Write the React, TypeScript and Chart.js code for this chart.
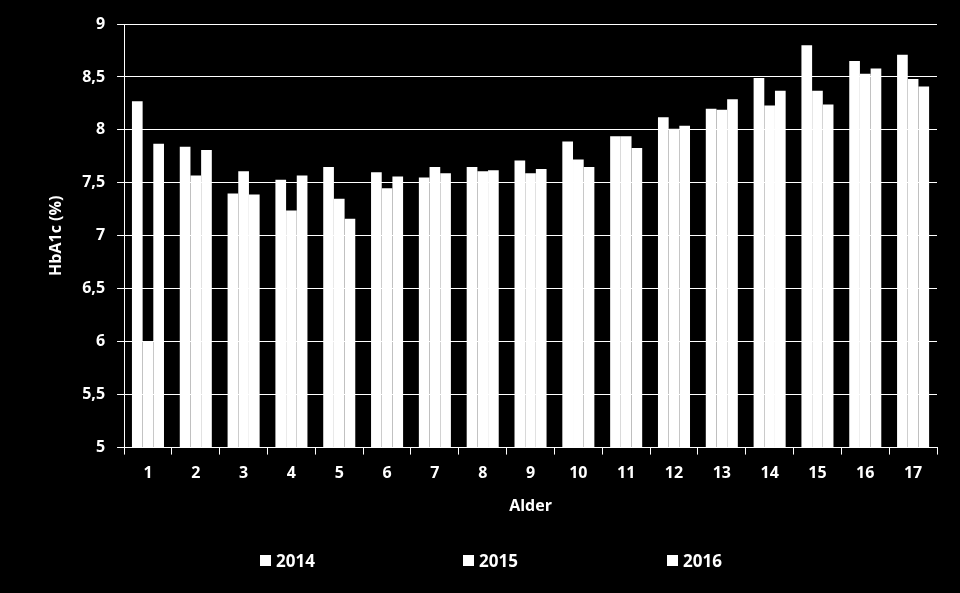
import React, { useEffect, useRef } from "react";
import { Chart, registerables } from "chart.js";

Chart.register(...registerables);

const categories = ["1", "2", "3", "4", "5", "6", "7", "8", "9", "10", "11", "12", "13", "14", "15", "16", "17"];
const series2014 = [8.27, 7.84, 7.40, 7.53, 7.65, 7.60, 7.55, 7.65, 7.71, 7.89, 7.94, 8.12, 8.20, 8.49, 8.80, 8.65, 8.71];
const series2015 = [6.0, 7.57, 7.61, 7.24, 7.35, 7.45, 7.65, 7.61, 7.59, 7.72, 7.94, 8.01, 8.19, 8.23, 8.37, 8.53, 8.48];
const series2016 = [7.87, 7.81, 7.39, 7.57, 7.16, 7.56, 7.59, 7.62, 7.63, 7.65, 7.83, 8.04, 8.29, 8.37, 8.24, 8.58, 8.41];
const seriesLabels = ["2014", "2015", "2016"];

const FONT = "'Open Sans', 'DejaVu Sans', sans-serif";

export default function App() {
  const ref = useRef<HTMLCanvasElement | null>(null);
  useEffect(() => {
    document.body.style.margin = "0";
    document.body.style.background = "#000";
    const ctx = ref.current!;
    const chart = new Chart(ctx, {
      type: "bar",
      data: {
        labels: categories,
        datasets: [series2014, series2015, series2016].map((d, i) => ({
          label: seriesLabels[i],
          data: d,
          backgroundColor: "#ffffff",
          borderWidth: 0,
          categoryPercentage: 0.67,
          barPercentage: 1.0,
        })),
      },
      options: {
        animation: false,
        responsive: false,
        layout: { padding: { top: 24, right: 23, left: 47, bottom: 77 } },
        plugins: {
          tooltip: { enabled: false },
          legend: { display: false },
        },
        scales: {
          x: {
            grid: {
              display: true,
              drawOnChartArea: false,
              drawTicks: true,
              tickLength: 7,
              color: "#ffffff",
              offset: true,
            },
            border: { display: true, color: "#ffffff", width: 1 },
            ticks: {
              color: "#ffffff",
              font: { family: FONT, size: 16, weight: "bold" },
              padding: 9,
            },
            title: {
              display: true,
              text: "Alder",
              color: "#ffffff",
              font: { family: FONT, size: 16, weight: "bold" },
              padding: { top: 5, bottom: 0 },
            },
          },
          y: {
            min: 5,
            max: 9,
            grid: {
              color: "#ffffff",
              lineWidth: 1,
              tickLength: 7,
            },
            border: { display: true, color: "#ffffff", width: 1 },
            ticks: {
              stepSize: 0.5,
              color: "#ffffff",
              font: { family: FONT, size: 16, weight: "bold" },
              padding: 12,
              callback: (v: any) => String(v).replace(".", ","),
            },
            title: {
              display: true,
              text: "HbA1c (%)",
              color: "#ffffff",
              font: { family: FONT, size: 16, weight: "bold" },
              padding: { top: 0, bottom: 4 },
            },
          },
        },
      },
    });
    return () => chart.destroy();
  }, []);
  const legendX = [260, 463, 667];
  return (
    <div style={{ position: "fixed", left: 0, top: 0, width: 960, height: 593, background: "#000" }}>
      <canvas ref={ref} width={960} height={593} style={{ width: 960, height: 593, display: "block" }} />
      {seriesLabels.map((l, i) => (
        <div
          key={l}
          style={{
            position: "absolute",
            left: legendX[i],
            top: 549,
            height: 22,
            display: "flex",
            alignItems: "center",
            color: "#fff",
            fontFamily: FONT,
            fontWeight: "bold",
            fontSize: 17,
          }}
        >
          <span style={{ display: "inline-block", width: 11, height: 11, background: "#fff", marginRight: 5 }} />
          <span>{l}</span>
        </div>
      ))}
    </div>
  );
}
